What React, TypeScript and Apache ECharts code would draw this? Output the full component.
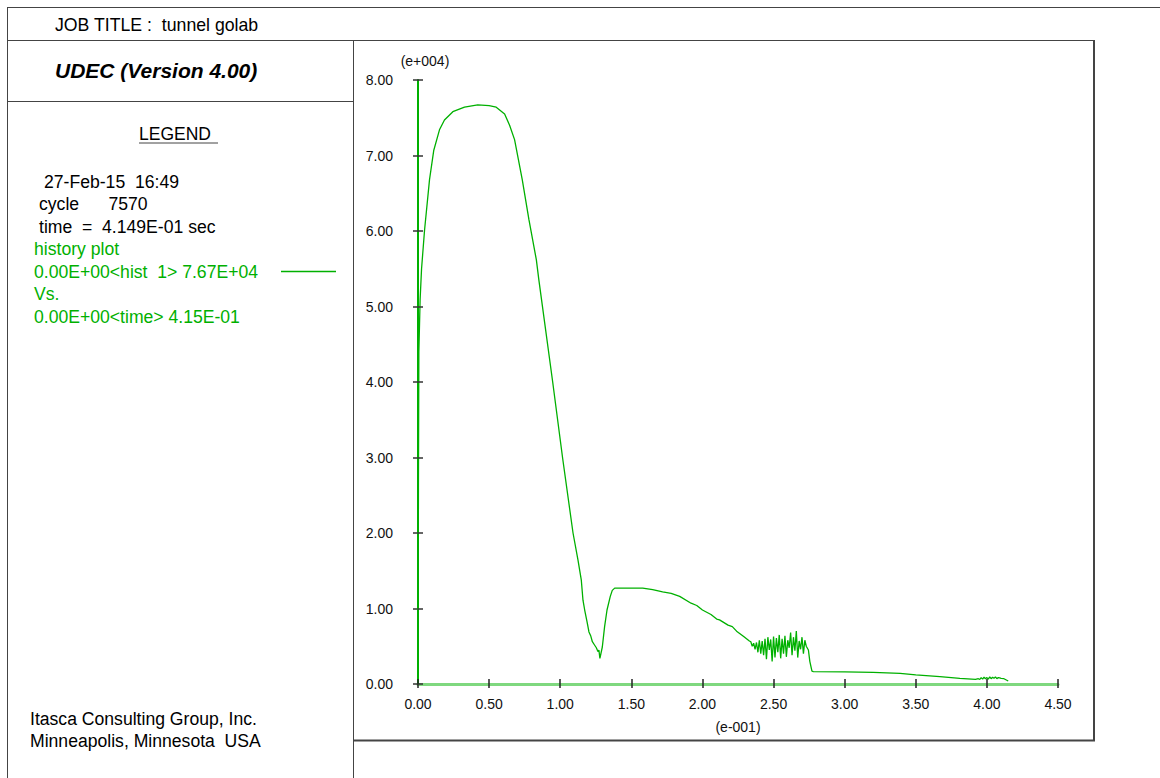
import React, { useEffect, useRef } from "react";
import * as echarts from "echarts";

// time in units of e-001 sec, history 1 in units of e+004
const timeVals: number[] = [
  0, 0.003, 0.006, 0.015, 0.025, 0.046, 0.081, 0.111, 0.151, 0.186, 0.245, 0.327, 0.42, 0.5, 0.55,
  0.609, 0.644, 0.679, 0.733, 0.78, 0.832, 0.85, 0.947, 1.017, 1.09, 1.125, 1.148, 1.16, 1.172,
  1.188, 1.202, 1.214, 1.226, 1.24, 1.254, 1.265, 1.272, 1.279, 1.296, 1.312, 1.329, 1.352, 1.366,
  1.383, 1.5, 1.58, 1.65, 1.72, 1.78, 1.84, 1.92, 1.96, 2.0, 2.06, 2.1, 2.12, 2.18, 2.21, 2.24,
  2.29, 2.33,
  2.34, 2.35, 2.36, 2.37, 2.38, 2.39, 2.4, 2.41, 2.42, 2.43, 2.44, 2.45, 2.46, 2.47, 2.48, 2.49,
  2.5, 2.51, 2.52, 2.53, 2.54, 2.55, 2.56, 2.57, 2.58, 2.59, 2.6, 2.61, 2.62, 2.63, 2.64, 2.65,
  2.66, 2.67, 2.68, 2.69, 2.7, 2.71, 2.72, 2.73, 2.745, 2.755, 2.77, 2.78,
  3.0, 3.2, 3.39, 3.5, 3.67, 3.81, 3.92, 3.94, 3.95, 3.96, 3.97, 3.98, 3.99, 4.0, 4.01, 4.02,
  4.03, 4.04, 4.05, 4.06, 4.07, 4.08, 4.09, 4.1, 4.12, 4.14, 4.15,
];
const hist1Vals: number[] = [
  0, 2.6, 4.4, 5.1, 5.5, 6.01, 6.68, 7.07, 7.34, 7.47, 7.58, 7.64, 7.67, 7.66, 7.64,
  7.55, 7.4, 7.21, 6.68, 6.15, 5.62, 5.35, 4.0, 2.99, 2.0, 1.64, 1.38, 1.11, 0.98,
  0.83, 0.69, 0.64, 0.56, 0.52, 0.48, 0.43, 0.45, 0.34, 0.49, 0.76, 0.98, 1.16, 1.24,
  1.27, 1.27, 1.27, 1.25, 1.22, 1.2, 1.16, 1.07, 1.04, 0.98, 0.92, 0.86, 0.85, 0.78, 0.76, 0.7,
  0.63, 0.57,
  0.56, 0.5, 0.54, 0.46, 0.55, 0.42, 0.58, 0.4, 0.57, 0.38, 0.6, 0.33, 0.62, 0.45, 0.59, 0.3,
  0.63, 0.35, 0.61, 0.42, 0.65, 0.34, 0.6, 0.4, 0.64, 0.36, 0.58, 0.48, 0.68, 0.38, 0.62, 0.44,
  0.7, 0.35, 0.57, 0.46, 0.62, 0.4, 0.58, 0.5, 0.45, 0.3, 0.17, 0.165,
  0.16, 0.155, 0.14, 0.12, 0.097, 0.075, 0.06, 0.07, 0.06, 0.085, 0.065, 0.09, 0.07, 0.085, 0.065, 0.095,
  0.07, 0.09, 0.075, 0.095, 0.07, 0.085, 0.08, 0.075, 0.07, 0.05, 0.04,
];

const xTicks = [0, 0.5, 1, 1.5, 2, 2.5, 3, 3.5, 4, 4.5];
const yTicks = [0, 1, 2, 3, 4, 5, 6, 7, 8];

const legendLines = [
  { text: "27-Feb-15  16:49", x: 44, y: 182, green: false },
  { text: "cycle      7570", x: 39, y: 204, green: false },
  { text: "time  =  4.149E-01 sec", x: 39, y: 227, green: false },
  { text: "history plot", x: 34, y: 249, green: true },
  { text: "0.00E+00<hist  1> 7.67E+04", x: 34, y: 272, green: true },
  { text: "Vs.", x: 34, y: 294, green: true },
  { text: "0.00E+00<time> 4.15E-01", x: 34, y: 317, green: true },
];

const FONT = "'Liberation Sans', Arial, Helvetica, sans-serif";
const GREEN = "#00b000";
const FRAME = "#444";

export default function App() {
  const ref = useRef<HTMLDivElement>(null);
  useEffect(() => {
    if (!ref.current) return;
    const chart = echarts.init(ref.current, undefined, { renderer: "svg" });
    const data = timeVals.map((t, i) => [t, hist1Vals[i]]);
    const line = (x1: number, y1: number, x2: number, y2: number, w = 1) => ({
      type: "line",
      shape: { x1, y1, x2, y2 },
      style: { stroke: FRAME, lineWidth: w },
      silent: true,
    });
    const txt = (text: string, x: number, y: number, fill = "#000", size = 17.5, extra: any = {}) => ({
      type: "text",
      x,
      y,
      style: { text, fill, fontSize: size, fontFamily: FONT, verticalAlign: "middle", align: "left", ...extra },
      silent: true,
    });
    const axisCommon = {
      min: 0,
      splitLine: { show: false },
    };
    chart.setOption({
      animation: false,
      backgroundColor: "#fff",
      textStyle: { fontFamily: FONT },
      grid: { left: 418, right: 102, top: 80, bottom: 94, containLabel: false },
      xAxis: [
        {
          ...axisCommon,
          type: "value",
          max: xTicks[xTicks.length - 1],
          interval: 0.5,
          name: "(e-001)",
          nameLocation: "middle",
          nameGap: 36,
          nameTextStyle: { fontSize: 14, color: "#111", fontFamily: FONT },
          axisLine: { show: true, lineStyle: { color: "#7fd87f", width: 3 } },
          axisTick: { show: true, length: 4, lineStyle: { color: "#222", width: 1.5 } },
          axisLabel: {
            fontSize: 14,
            color: "#111",
            margin: 13,
            fontFamily: FONT,
            formatter: (v: number) => v.toFixed(2),
          },
        },
        {
          ...axisCommon,
          type: "value",
          max: xTicks[xTicks.length - 1],
          interval: 0.5,
          position: "bottom",
          z: 5,
          axisLine: { show: false },
          axisTick: { show: true, inside: true, length: 5, lineStyle: { color: "#222", width: 1.5 } },
          axisLabel: { show: false },
        },
      ],
      yAxis: [
        {
          ...axisCommon,
          type: "value",
          max: yTicks[yTicks.length - 1],
          interval: 1,
          name: "(e+004)",
          nameLocation: "end",
          nameGap: 12,
          nameTextStyle: { fontSize: 14, color: "#111", fontFamily: FONT, align: "center", padding: [0, 0, 0, 14] },
          axisLine: { show: true, lineStyle: { color: GREEN, width: 2 } },
          axisTick: { show: true, length: 5, lineStyle: { color: "#333", width: 1.5 } },
          axisLabel: {
            fontSize: 14,
            color: "#111",
            margin: 25,
            fontFamily: FONT,
            formatter: (v: number) => v.toFixed(2),
          },
        },
        {
          ...axisCommon,
          type: "value",
          max: yTicks[yTicks.length - 1],
          interval: 1,
          position: "left",
          z: 5,
          axisLine: { show: false },
          axisTick: { show: true, inside: true, length: 5, lineStyle: { color: "#333", width: 1.5 } },
          axisLabel: { show: false },
        },
      ],
      series: [
        {
          name: "hist 1",
          type: "line",
          xAxisIndex: 0,
          yAxisIndex: 0,
          data,
          showSymbol: false,
          symbol: "none",
          lineStyle: { color: GREEN, width: 1.3 },
          z: 3,
        },
      ],
      graphic: [
        line(7, 7.5, 1160, 7.5),
        line(7.5, 7, 7.5, 778),
        line(7, 40.5, 1094, 40.5),
        line(353.5, 40, 353.5, 778),
        line(7, 101.5, 353, 101.5),
        line(1094, 40, 1094, 741, 2),
        line(353, 740.5, 1095, 740.5, 2),
        txt("JOB TITLE :  tunnel golab", 55, 25, "#000", 17.7),
        txt("UDEC (Version 4.00)", 55, 70, "#000", 21, { fontWeight: "bold", fontStyle: "italic" }),
        txt("LEGEND", 139, 134, "#000", 17.5),
        line(139, 143, 218, 143),
        ...legendLines.map((l) => txt(l.text, l.x, l.y, l.green ? GREEN : "#000", 17.6)),
        {
          type: "line",
          shape: { x1: 281, y1: 271.5, x2: 336, y2: 271.5 },
          style: { stroke: GREEN, lineWidth: 1.5 },
          silent: true,
        },
        txt("Itasca Consulting Group, Inc.", 30, 719, "#000", 17.6),
        txt("Minneapolis, Minnesota  USA", 30, 741, "#000", 17.6),
      ],
    });
    return () => chart.dispose();
  }, []);
  return (
    <div
      ref={ref}
      style={{ position: "fixed", left: 0, top: 0, width: 1160, height: 778, background: "#fff" }}
    />
  );
}
